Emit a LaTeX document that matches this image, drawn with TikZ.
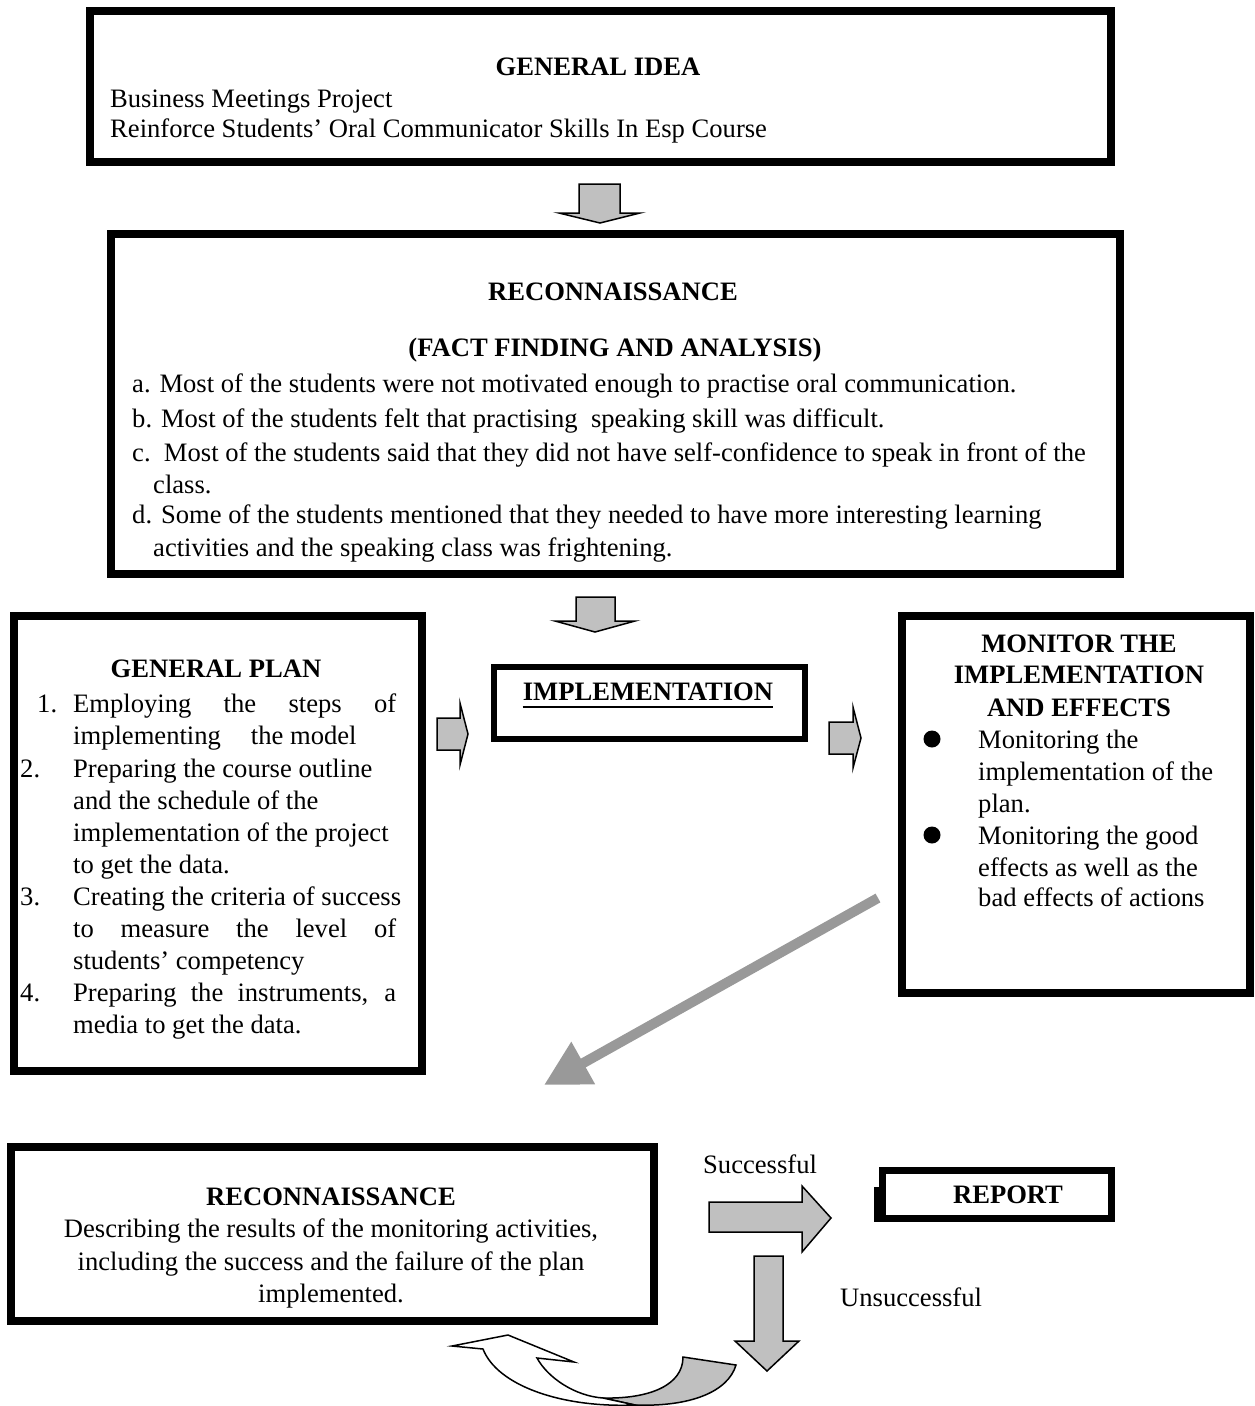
\documentclass[tikz,border=0pt]{standalone}
\usepackage{fontspec}
\setmainfont{Liberation Serif}
\usetikzlibrary{arrows.meta,fit}
\definecolor{blockgray}{RGB}{192,192,192}
\definecolor{diaggray}{RGB}{153,153,153}
\newcommand{\myfs}{\fontsize{26.6}{32}\selectfont}
\begin{document}
\begin{tikzpicture}[x=1pt,y=-1pt,
  box/.style={draw, line width=8pt, inner sep=0pt, outer sep=0pt},
  tl/.style={inner sep=0pt, font=\myfs, anchor=base west},
  tc/.style={inner sep=0pt, font=\myfs, anchor=base},
  th/.style={inner sep=0pt, font=\myfs\bfseries, anchor=base},
  blockarrow/.style={draw, fill=blockgray, line width=1.5pt, line join=miter},
  bullet/.style={circle, fill, minimum size=17pt, inner sep=0pt},
]
\useasboundingbox (0,0) rectangle (1254,1406);

% ---------------- boxes
\node[box, fit={(90,11)(1111,162)}] (idea) {};
\node[box, fit={(111,234)(1120,574)}] (recon1) {};
\node[box, fit={(14,616)(422,1071)}] (plan) {};
\node[box, line width=6pt, fit={(494,667)(805,739)}] (impl) {};
\node[box, fit={(902,616)(1250,993)}] (monitor) {};
\node[box, fit={(11,1147)(654,1321)}] (recon2) {};
\node[box, line width=7pt, fit={(882.5,1170.5)(1111.5,1218.5)}] (report) {};
\fill (874,1187) rectangle (880,1222);

% ---------------- block arrows
\draw[blockarrow] (579,184) -- (620,184) -- (620,213) -- (640,213) -- (600,223) -- (559,213) -- (579,213) -- cycle;
\draw[blockarrow] (576,597) -- (615,597) -- (615,621) -- (635,621) -- (595,632) -- (555,621) -- (576,621) -- cycle;
\draw[blockarrow] (437,718) -- (460,718) -- (460,703) -- (468,734) -- (460,765) -- (460,750) -- (437,750) -- cycle;
\draw[blockarrow] (829,722) -- (853,722) -- (853,707) -- (861,738) -- (853,768) -- (853,754) -- (829,754) -- cycle;
\draw[blockarrow] (709,1202) -- (802,1202) -- (802,1186) -- (831,1218) -- (802,1252) -- (802,1232) -- (709,1232) -- cycle;
\draw[blockarrow] (754,1256) -- (783,1256) -- (783,1341) -- (799,1341) -- (767,1371) -- (735,1341) -- (754,1341) -- cycle;

% curved return arrow
\draw[blockarrow] (683,1357) .. controls (683,1385) and (650,1399) .. (603,1398) -- (635,1405) .. controls (690,1407) and (728,1392) .. (736,1365) -- cycle;
\draw[line width=1.5pt, fill=white, line join=miter] (483,1349) .. controls (497,1385) and (560,1408) .. (635,1405) -- (603,1398) .. controls (575,1396) and (548,1378) .. (537,1358) -- (574,1362) -- (508,1335) -- (452,1346) -- cycle;

% diagonal arrow
\coordinate (dstart) at (878,898);
\coordinate (dend) at (544,1085);
\draw[diaggray, line width=10pt, -{Triangle[length=45pt,width=46pt]}] (dstart) -- (dend);

% ---------------- texts: general idea
\node[th] (ideah) at (598,75) {GENERAL IDEA};
\node[tl] (idea1) at (110,107) {Business Meetings Project};
\node[tl] (idea2) at (110,137) {Reinforce Students’ Oral Communicator Skills In Esp Course};

% reconnaissance 1
\node[th] (r1h) at (613,300) {RECONNAISSANCE};
\node[th] (r1h2) at (615,356) {(FACT FINDING AND ANALYSIS)};
\node[tl] (r1a) at (132,392) {a. Most of the students were not motivated enough to practise oral communication.};
\node[tl] (r1b) at (132,427) {b. Most of the students felt that practising\ \ speaking skill was difficult.};
\node[tl] (r1c) at (132,461) {c.\ \ Most of the students said that they did not have self-confidence to speak in front of the};
\node[tl] (r1c2) at (153,493) {class.};
\node[tl] (r1d) at (132,523) {d. Some of the students mentioned that they needed to have more interesting learning};
\node[tl] (r1d2) at (153,556) {activities and the speaking class was frightening.};

% general plan
\node[th] (ph) at (216,677) {GENERAL PLAN};
\node[tl] (pn1) at (37,712) {1.};
\node[tl] (p1a) at (73,712) {\makebox[323pt][s]{Employing the steps of}};
\node[tl] (p1b) at (73,744) {implementing\hspace{30pt}the model};
\node[tl] (pn2) at (20,777) {2.};
\node[tl] (p2a) at (73,777) {Preparing the course outline};
\node[tl] (p2b) at (73,809) {and the schedule of the};
\node[tl] (p2c) at (73,841) {implementation of the project};
\node[tl] (p2d) at (73,873) {to get the data.};
\node[tl] (pn3) at (20,905) {3.};
\node[tl] (p3a) at (73,905) {Creating the criteria of success};
\node[tl] (p3b) at (73,937) {\makebox[323pt][s]{to measure the level of}};
\node[tl] (p3c) at (73,969) {students’ competency};
\node[tl] (pn4) at (20,1001) {4.};
\node[tl] (p4a) at (73,1001) {\makebox[323pt][s]{Preparing the instruments, a}};
\node[tl] (p4b) at (73,1033) {media to get the data.};

% implementation
\node[th] (implt) at (648,700) {IMPLEMENTATION};
\draw[line width=2.5pt] ([yshift=-7pt]implt.base west) -- ([yshift=-7pt]implt.base east);

% monitor
\node[th] (m1) at (1079,652) {MONITOR THE};
\node[th] (m2) at (1079,683) {IMPLEMENTATION};
\node[th] (m3) at (1079,716) {AND EFFECTS};
\node[bullet] (mb1) at (932,739) {};
\node[tl] (ma1) at (978,748) {Monitoring the};
\node[tl] (ma2) at (978,780) {implementation of the};
\node[tl] (ma3) at (978,812) {plan.};
\node[bullet] (mb2) at (932,835) {};
\node[tl] (mb1t) at (978,844) {Monitoring the good};
\node[tl] (mb2t) at (978,876) {effects as well as the};
\node[tl] (mb3t) at (978,906) {bad effects of actions};

% reconnaissance 2
\node[th] (r2h) at (331,1205) {RECONNAISSANCE};
\node[tc] (r2a) at (331,1237) {Describing the results of the monitoring activities,};
\node[tc] (r2b) at (331,1270) {including the success and the failure of the plan};
\node[tc] (r2c) at (331,1302) {implemented.};

% outcomes
\node[tl] (succ) at (703,1173) {Successful};
\node[tl] (unsucc) at (840,1306) {Unsuccessful};
\node[th] (rep) at (1008,1203) {REPORT};
\end{tikzpicture}
\end{document}
